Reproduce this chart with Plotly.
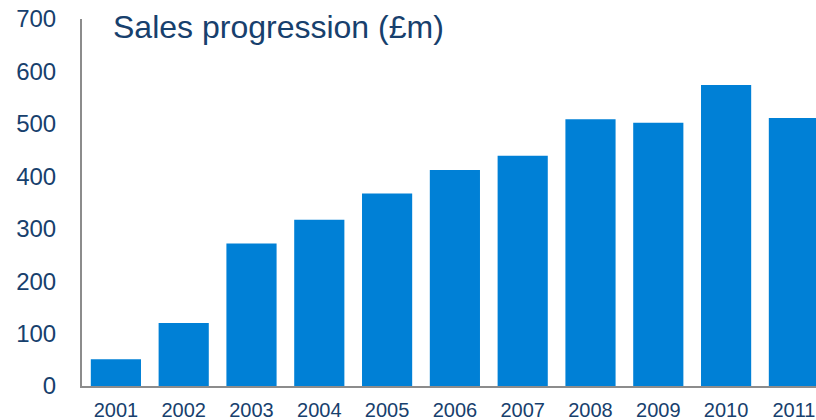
import plotly.graph_objects as go

years = ["2001", "2002", "2003", "2004", "2005", "2006", "2007", "2008", "2009", "2010", "2011"]
sales = [51, 120, 272, 317, 367, 412, 439, 509, 502, 574, 511]
y_ticks = [0, 100, 200, 300, 400, 500, 600, 700]
title_text = "Sales progression (£m)"

navy = "#17406D"
bar_color = "#0080D6"
axis_grey = "#8C8C8C"

fig = go.Figure(
    go.Bar(x=years, y=sales, marker=dict(color=bar_color, line=dict(width=0)))
)

fig.update_layout(
    width=816,
    height=420,
    margin=dict(l=82, r=0, t=19, b=34, autoexpand=False),
    paper_bgcolor="white",
    plot_bgcolor="white",
    bargap=0.26,
    showlegend=False,
    font=dict(family="Liberation Sans, Arial, sans-serif", color=navy),
    annotations=[
        dict(
            text=title_text,
            xref="paper", yref="paper",
            x=(111 - 82) / 734, y=(386 - 27) / 367,
            xanchor="left", yanchor="middle",
            showarrow=False,
            font=dict(size=32, color=navy),
        )
    ],
)

fig.update_xaxes(
    type="category",
    range=[-0.5, 10.326],
    automargin=False,
    showline=True, linecolor=axis_grey, linewidth=2,
    showgrid=False, zeroline=False,
    ticks="", tickfont=dict(size=20, color=navy),
    ticklabelstandoff=5,
)

fig.update_yaxes(
    range=[0, 700],
    tickvals=y_ticks,
    automargin=False,
    showline=True, linecolor=axis_grey, linewidth=2,
    showgrid=False, zeroline=False,
    ticks="", tickfont=dict(size=24, color=navy),
    ticklabelstandoff=19,
)

fig.write_html("out.html")
